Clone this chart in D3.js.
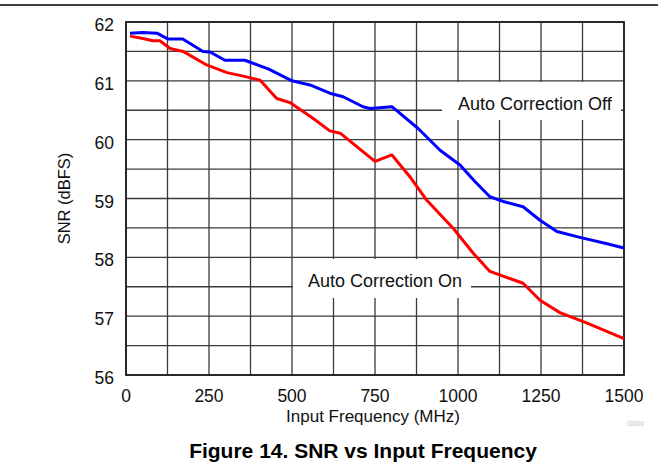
<!DOCTYPE html>
<html>
<head>
<meta charset="utf-8">
<script src="https://cdn.jsdelivr.net/npm/d3@7"></script>
<style>
    body { margin: 0; background: #fff; }
    svg { display: block; font-family: 'Liberation Sans', Arial, sans-serif; }
</style>
</head>
<body>
<div class="Canvas"></div>
<script>
// frequency (MHz) and SNR (dBFS)
const offFreq = [12, 50, 93, 127, 171, 232, 253, 298, 358, 430, 500, 554, 614, 654, 714, 735, 801, 880, 946, 1006, 1051, 1096, 1136, 1196, 1247, 1298, 1367, 1449, 1500];
const offSnr = [61.81, 61.82, 61.81, 61.71, 61.71, 61.5, 61.49, 61.35, 61.35, 61.2, 61.0, 60.93, 60.79, 60.73, 60.56, 60.53, 60.56, 60.19, 59.82, 59.57, 59.29, 59.03, 58.95, 58.86, 58.63, 58.44, 58.34, 58.23, 58.16];
const onFreq = [12, 51, 81, 102, 133, 172, 243, 304, 353, 404, 454, 494, 564, 614, 645, 750, 801, 855, 906, 986, 1046, 1096, 1196, 1247, 1307, 1389, 1500];
const onSnr = [61.76, 61.72, 61.68, 61.68, 61.55, 61.5, 61.27, 61.14, 61.08, 61.01, 60.7, 60.63, 60.36, 60.15, 60.11, 59.63, 59.74, 59.37, 58.97, 58.49, 58.07, 57.76, 57.56, 57.27, 57.06, 56.88, 56.62];

const xTicks = [0, 250, 500, 750, 1000, 1250, 1500];
const yTicks = [56, 57, 58, 59, 60, 61, 62];
const xGrid = d3.range(0, 1501, 125);
const yGrid = d3.range(56, 62.01, 0.5);

const width = 658;
const height = 465;
const plotLeft = 126, plotRight = 624, plotTop = 22, plotBottom = 375;

const x = d3.scaleLinear().domain([0, 1500]).range([plotLeft, plotRight]);
const y = d3.scaleLinear().domain([56, 62]).range([plotBottom, plotTop]);

let svg = d3.select('.Canvas').append('svg').attr('width', width).attr('height', height);

// rule at top of page
svg.append('line')
    .attr('x1', 0).attr('x2', width)
    .attr('y1', 5).attr('y2', 5)
    .attr('stroke', '#000').attr('stroke-width', 1.5);

// grid
let grid = svg.append('g').attr('stroke', '#3a3a3a').attr('stroke-width', 1.3);
grid.selectAll('line.v')
    .data(xGrid)
    .enter()
    .append('line')
    .attr('class', 'v')
    .attr('x1', (d) => x(d)).attr('x2', (d) => x(d))
    .attr('y1', plotTop).attr('y2', plotBottom);
grid.selectAll('line.h')
    .data(yGrid)
    .enter()
    .append('line')
    .attr('class', 'h')
    .attr('x1', plotLeft).attr('x2', plotRight)
    .attr('y1', (d) => y(d)).attr('y2', (d) => y(d));

// white boxes behind the curve labels
svg.append('rect').attr('x', 442).attr('y', 82).attr('width', 179).attr('height', 38).attr('fill', '#fff');
svg.append('rect').attr('x', 293).attr('y', 259).attr('width', 178).attr('height', 39).attr('fill', '#fff');

// border
svg.append('rect')
    .attr('x', plotLeft).attr('y', plotTop)
    .attr('width', plotRight - plotLeft).attr('height', plotBottom - plotTop)
    .attr('fill', 'none').attr('stroke', '#222').attr('stroke-width', 1.8);

// curves
const line = d3.line().x((d) => x(d[0])).y((d) => y(d[1]));
const series = [
    { freq: offFreq, snr: offSnr, color: '#0000ff' },
    { freq: onFreq, snr: onSnr, color: '#ff0000' },
];
svg.selectAll('path.curve')
    .data(series)
    .enter()
    .append('path')
    .attr('class', 'curve')
    .attr('fill', 'none')
    .attr('stroke', (d) => d.color)
    .attr('stroke-width', 3)
    .attr('stroke-linejoin', 'round')
    .attr('d', (d) => line(d.freq.map((f, i) => [f, d.snr[i]])));

// tick labels
svg.append('g')
    .selectAll('text')
    .data(xTicks)
    .enter()
    .append('text')
    .attr('x', (d) => x(d))
    .attr('y', 402)
    .attr('text-anchor', 'middle')
    .attr('font-size', '17.5px')
    .attr('fill', '#111')
    .text((d) => d);
svg.append('g')
    .selectAll('text')
    .data(yTicks)
    .enter()
    .append('text')
    .attr('x', 114)
    .attr('y', (d) => y(d) + 9)
    .attr('text-anchor', 'end')
    .attr('font-size', '17.5px')
    .attr('fill', '#111')
    .text((d) => d);

// axis titles
svg.append('text')
    .attr('x', 373)
    .attr('y', 422)
    .attr('text-anchor', 'middle')
    .attr('font-size', '17px')
    .attr('fill', '#111')
    .text('Input Frequency (MHz)');
svg.append('text')
    .attr('transform', `translate(70, ${(plotTop + plotBottom) / 2}) rotate(-90)`)
    .attr('text-anchor', 'middle')
    .attr('font-size', '16.5px')
    .attr('fill', '#111')
    .text('SNR (dBFS)');

// curve labels
svg.append('text').attr('x', 458).attr('y', 110).attr('font-size', '18px').attr('fill', '#111').text('Auto Correction Off');
svg.append('text').attr('x', 308).attr('y', 287).attr('font-size', '18px').attr('fill', '#111').text('Auto Correction On');

// graph id
svg.append('text').attr('x', 627).attr('y', 426).attr('font-size', '7px').attr('fill', '#bbb').text('G000');

// caption
svg.append('text')
    .attr('x', 363)
    .attr('y', 458)
    .attr('text-anchor', 'middle')
    .attr('font-size', '21px')
    .attr('font-weight', 'bold')
    .attr('fill', '#000')
    .text('Figure 14. SNR vs Input Frequency');
</script>
</body>
</html>
